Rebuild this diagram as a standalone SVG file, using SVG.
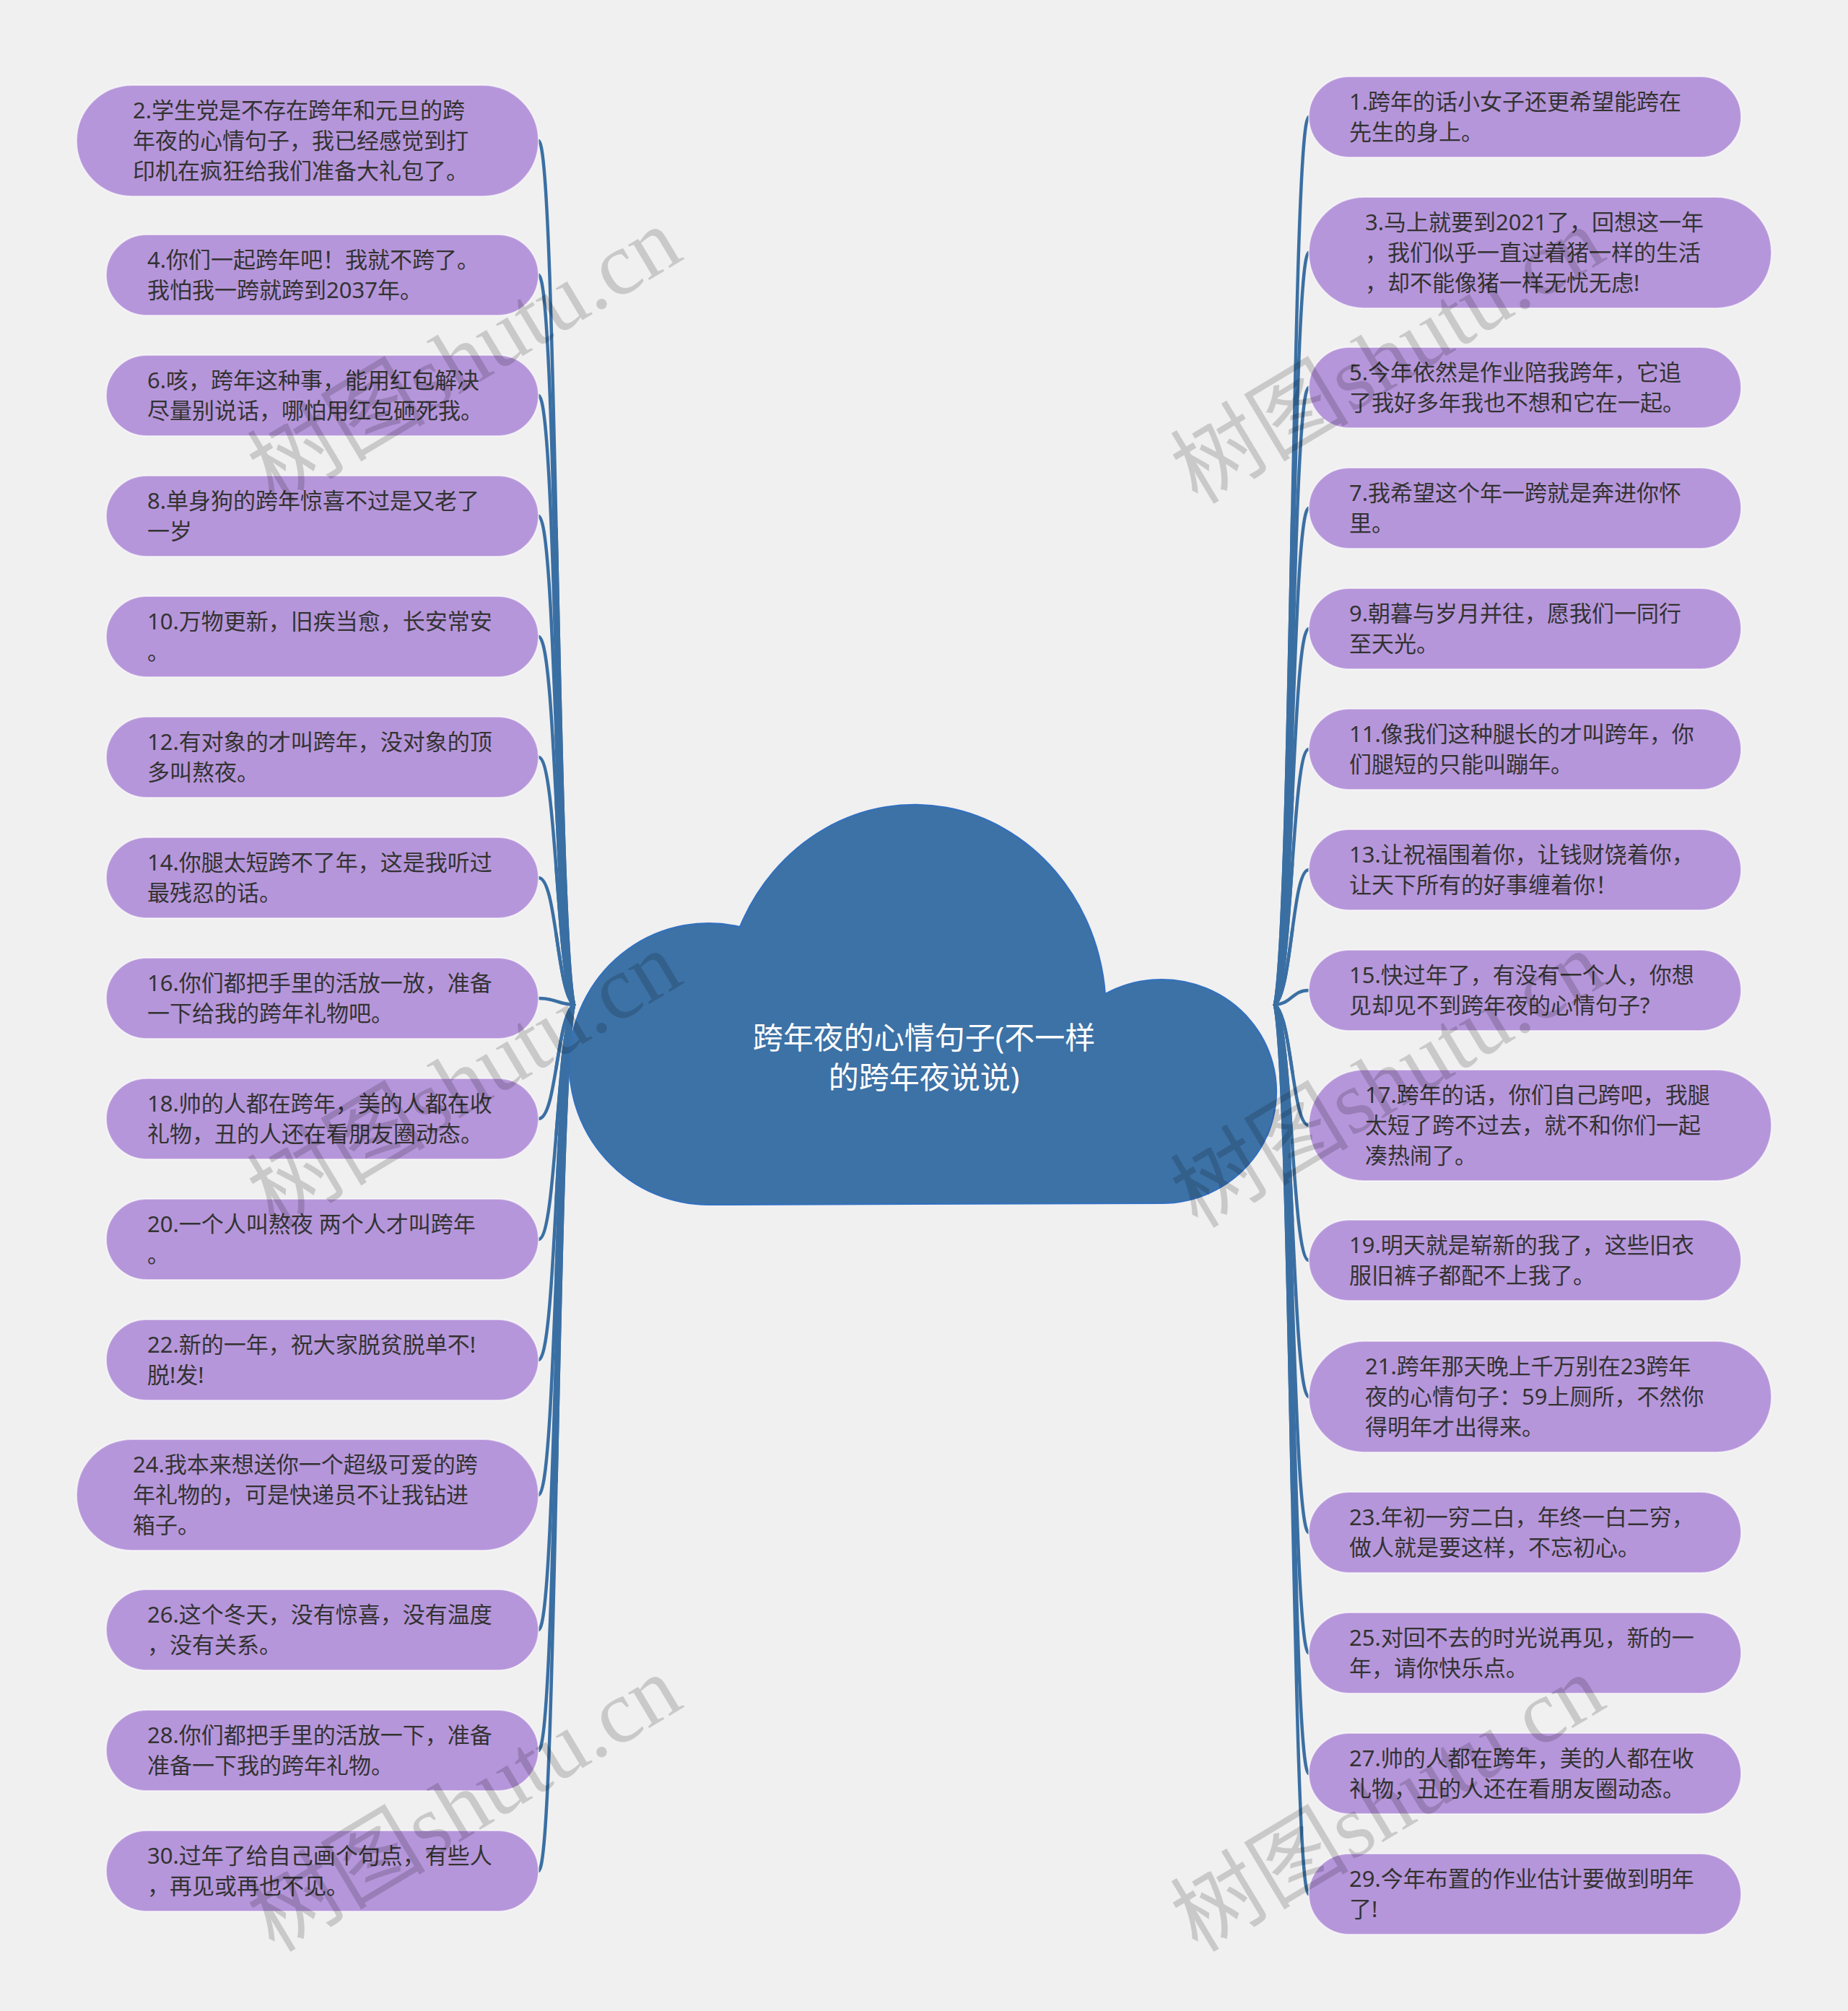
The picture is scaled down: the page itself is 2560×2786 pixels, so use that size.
<svg xmlns="http://www.w3.org/2000/svg" xmlns:xlink="http://www.w3.org/1999/xlink" width="2560" height="2786" viewBox="0 0 2560 2786">
<style>
.bg{fill:#f0f0f0}
.node{fill:#b696da;stroke:#ffffff;stroke-opacity:0.55;stroke-width:2}
.t{font-family:"Noto Sans","Noto Sans CJK SC",sans-serif;font-size:31px;fill:#333333}
.ct{font-family:"Noto Sans","Noto Sans CJK SC",sans-serif;font-size:42px;fill:#ffffff;text-anchor:middle}
.ln{fill:none;stroke:#3a6fa3;stroke-width:4.5;stroke-linecap:round}
.lnb{fill:none;stroke:#3a6fa3;stroke-width:7;stroke-linecap:butt;stroke-dasharray:0 45 55}
.wm{font-family:"Liberation Serif","Noto Sans CJK SC",serif;font-size:124px;fill:#000000;fill-opacity:0.16}
</style>
<rect class="bg" x="0" y="0" width="2560" height="2786"/>

<g id="connectors">
<path id="c2" class="ln" pathLength="100" d="M746,195 C771,195 771,1272 795,1392"/>
<path id="c4" class="ln" pathLength="100" d="M746,381 C771,381 771,1291 795,1392"/>
<path id="c6" class="ln" pathLength="100" d="M746,548 C771,548 771,1308 795,1392"/>
<path id="c8" class="ln" pathLength="100" d="M746,715 C771,715 771,1324 795,1392"/>
<path id="c10" class="ln" pathLength="100" d="M746,882 C771,882 771,1341 795,1392"/>
<path id="c12" class="ln" pathLength="100" d="M746,1049 C771,1049 771,1358 795,1392"/>
<path id="c14" class="ln" pathLength="100" d="M746,1216 C771,1216 771,1374 795,1392"/>
<path id="c16" class="ln" pathLength="100" d="M746,1383 C771,1383 771,1391 795,1392"/>
<path id="c18" class="ln" pathLength="100" d="M746,1550 C771,1550 771,1408 795,1392"/>
<path id="c20" class="ln" pathLength="100" d="M746,1717 C771,1717 771,1425 795,1392"/>
<path id="c22" class="ln" pathLength="100" d="M746,1884 C771,1884 771,1441 795,1392"/>
<path id="c24" class="ln" pathLength="100" d="M746,2071 C771,2071 771,1460 795,1392"/>
<path id="c26" class="ln" pathLength="100" d="M746,2258 C771,2258 771,1479 795,1392"/>
<path id="c28" class="ln" pathLength="100" d="M746,2425 C771,2425 771,1495 795,1392"/>
<path id="c30" class="ln" pathLength="100" d="M746,2592 C771,2592 771,1512 795,1392"/>
<path id="c1" class="ln" pathLength="100" d="M1813,162 C1790,162 1790,1269 1766,1392"/>
<path id="c3" class="ln" pathLength="100" d="M1813,350 C1790,350 1790,1288 1766,1392"/>
<path id="c5" class="ln" pathLength="100" d="M1813,537 C1790,537 1790,1306 1766,1392"/>
<path id="c7" class="ln" pathLength="100" d="M1813,704 C1790,704 1790,1323 1766,1392"/>
<path id="c9" class="ln" pathLength="100" d="M1813,871 C1790,871 1790,1340 1766,1392"/>
<path id="c11" class="ln" pathLength="100" d="M1813,1038 C1790,1038 1790,1357 1766,1392"/>
<path id="c13" class="ln" pathLength="100" d="M1813,1205 C1790,1205 1790,1373 1766,1392"/>
<path id="c15" class="ln" pathLength="100" d="M1813,1372 C1790,1372 1790,1390 1766,1392"/>
<path id="c17" class="ln" pathLength="100" d="M1813,1559 C1790,1559 1790,1409 1766,1392"/>
<path id="c19" class="ln" pathLength="100" d="M1813,1746 C1790,1746 1790,1427 1766,1392"/>
<path id="c21" class="ln" pathLength="100" d="M1813,1935 C1790,1935 1790,1446 1766,1392"/>
<path id="c23" class="ln" pathLength="100" d="M1813,2123 C1790,2123 1790,1465 1766,1392"/>
<path id="c25" class="ln" pathLength="100" d="M1813,2290 C1790,2290 1790,1482 1766,1392"/>
<path id="c27" class="ln" pathLength="100" d="M1813,2457 C1790,2457 1790,1499 1766,1392"/>
<path id="c29" class="ln" pathLength="100" d="M1813,2624 C1790,2624 1790,1515 1766,1392"/>
<g class="lnb">
<use xlink:href="#c2" href="#c2" class="lnb"/><use xlink:href="#c4" href="#c4" class="lnb"/><use xlink:href="#c6" href="#c6" class="lnb"/><use xlink:href="#c8" href="#c8" class="lnb"/><use xlink:href="#c10" href="#c10" class="lnb"/><use xlink:href="#c12" href="#c12" class="lnb"/><use xlink:href="#c14" href="#c14" class="lnb"/><use xlink:href="#c18" href="#c18" class="lnb"/><use xlink:href="#c20" href="#c20" class="lnb"/><use xlink:href="#c22" href="#c22" class="lnb"/><use xlink:href="#c24" href="#c24" class="lnb"/><use xlink:href="#c26" href="#c26" class="lnb"/><use xlink:href="#c28" href="#c28" class="lnb"/><use xlink:href="#c30" href="#c30" class="lnb"/>
<use xlink:href="#c1" href="#c1" class="lnb"/><use xlink:href="#c3" href="#c3" class="lnb"/><use xlink:href="#c5" href="#c5" class="lnb"/><use xlink:href="#c7" href="#c7" class="lnb"/><use xlink:href="#c9" href="#c9" class="lnb"/><use xlink:href="#c11" href="#c11" class="lnb"/><use xlink:href="#c13" href="#c13" class="lnb"/><use xlink:href="#c17" href="#c17" class="lnb"/><use xlink:href="#c19" href="#c19" class="lnb"/><use xlink:href="#c21" href="#c21" class="lnb"/><use xlink:href="#c23" href="#c23" class="lnb"/><use xlink:href="#c25" href="#c25" class="lnb"/><use xlink:href="#c27" href="#c27" class="lnb"/><use xlink:href="#c29" href="#c29" class="lnb"/>
</g>
</g>

<g id="center">
<path d="M985,1669 A193 195 0 1 1 1025,1284 A265 286 0 0 1 1531,1377 A159 155 0 1 1 1609,1667 Z" fill="#3d72a6" stroke="#3270c0" stroke-width="2"/>
<text class="ct"><tspan x="1280" y="1453">跨年夜的心情句子(不一样</tspan><tspan x="1280" y="1508">的跨年夜说说)</tspan></text>
</g>

<g id="n2"><rect class="node" x="106" y="118" width="640" height="154" rx="77"/><text class="t"><tspan x="184" y="164">2.学生党是不存在跨年和元旦的跨</tspan><tspan x="184" y="206">年夜的心情句子，我已经感觉到打</tspan><tspan x="184" y="248">印机在疯狂给我们准备大礼包了。</tspan></text></g>
<g id="n4"><rect class="node" x="147" y="325" width="599" height="112" rx="56"/><text class="t"><tspan x="204" y="371">4.你们一起跨年吧！我就不跨了。</tspan><tspan x="204" y="413">我怕我一跨就跨到2037年。</tspan></text></g>
<g id="n6"><rect class="node" x="147" y="492" width="599" height="112" rx="56"/><text class="t"><tspan x="204" y="538">6.咳，跨年这种事，能用红包解决</tspan><tspan x="204" y="580">尽量别说话，哪怕用红包砸死我。</tspan></text></g>
<g id="n8"><rect class="node" x="147" y="659" width="599" height="112" rx="56"/><text class="t"><tspan x="204" y="705">8.单身狗的跨年惊喜不过是又老了</tspan><tspan x="204" y="747">一岁</tspan></text></g>
<g id="n10"><rect class="node" x="147" y="826" width="599" height="112" rx="56"/><text class="t"><tspan x="204" y="872">10.万物更新，旧疾当愈，长安常安</tspan><tspan x="204" y="914">。</tspan></text></g>
<g id="n12"><rect class="node" x="147" y="993" width="599" height="112" rx="56"/><text class="t"><tspan x="204" y="1039">12.有对象的才叫跨年，没对象的顶</tspan><tspan x="204" y="1081">多叫熬夜。</tspan></text></g>
<g id="n14"><rect class="node" x="147" y="1160" width="599" height="112" rx="56"/><text class="t"><tspan x="204" y="1206">14.你腿太短跨不了年，这是我听过</tspan><tspan x="204" y="1248">最残忍的话。</tspan></text></g>
<g id="n16"><rect class="node" x="147" y="1327" width="599" height="112" rx="56"/><text class="t"><tspan x="204" y="1373">16.你们都把手里的活放一放，准备</tspan><tspan x="204" y="1415">一下给我的跨年礼物吧。</tspan></text></g>
<g id="n18"><rect class="node" x="147" y="1494" width="599" height="112" rx="56"/><text class="t"><tspan x="204" y="1540">18.帅的人都在跨年，美的人都在收</tspan><tspan x="204" y="1582">礼物，丑的人还在看朋友圈动态。</tspan></text></g>
<g id="n20"><rect class="node" x="147" y="1661" width="599" height="112" rx="56"/><text class="t"><tspan x="204" y="1707">20.一个人叫熬夜 两个人才叫跨年</tspan><tspan x="204" y="1749">。</tspan></text></g>
<g id="n22"><rect class="node" x="147" y="1828" width="599" height="112" rx="56"/><text class="t"><tspan x="204" y="1874">22.新的一年，祝大家脱贫脱单不!</tspan><tspan x="204" y="1916">脱!发!</tspan></text></g>
<g id="n24"><rect class="node" x="106" y="1994" width="640" height="154" rx="77"/><text class="t"><tspan x="184" y="2040">24.我本来想送你一个超级可爱的跨</tspan><tspan x="184" y="2082">年礼物的，可是快递员不让我钻进</tspan><tspan x="184" y="2124">箱子。</tspan></text></g>
<g id="n26"><rect class="node" x="147" y="2202" width="599" height="112" rx="56"/><text class="t"><tspan x="204" y="2248">26.这个冬天，没有惊喜，没有温度</tspan><tspan x="204" y="2290">，没有关系。</tspan></text></g>
<g id="n28"><rect class="node" x="147" y="2369" width="599" height="112" rx="56"/><text class="t"><tspan x="204" y="2415">28.你们都把手里的活放一下，准备</tspan><tspan x="204" y="2457">准备一下我的跨年礼物。</tspan></text></g>
<g id="n30"><rect class="node" x="147" y="2536" width="599" height="112" rx="56"/><text class="t"><tspan x="204" y="2582">30.过年了给自己画个句点，有些人</tspan><tspan x="204" y="2624">，再见或再也不见。</tspan></text></g>

<g id="n1"><rect class="node" x="1813" y="106" width="599" height="112" rx="56"/><text class="t"><tspan x="1869" y="152">1.跨年的话小女子还更希望能跨在</tspan><tspan x="1869" y="194">先生的身上。</tspan></text></g>
<g id="n3"><rect class="node" x="1813" y="273" width="641" height="154" rx="77"/><text class="t"><tspan x="1891" y="319">3.马上就要到2021了，回想这一年</tspan><tspan x="1891" y="361">，我们似乎一直过着猪一样的生活</tspan><tspan x="1891" y="403">，却不能像猪一样无忧无虑!</tspan></text></g>
<g id="n5"><rect class="node" x="1813" y="481" width="599" height="112" rx="56"/><text class="t"><tspan x="1869" y="527">5.今年依然是作业陪我跨年，它追</tspan><tspan x="1869" y="569">了我好多年我也不想和它在一起。</tspan></text></g>
<g id="n7"><rect class="node" x="1813" y="648" width="599" height="112" rx="56"/><text class="t"><tspan x="1869" y="694">7.我希望这个年一跨就是奔进你怀</tspan><tspan x="1869" y="736">里。</tspan></text></g>
<g id="n9"><rect class="node" x="1813" y="815" width="599" height="112" rx="56"/><text class="t"><tspan x="1869" y="861">9.朝暮与岁月并往，愿我们一同行</tspan><tspan x="1869" y="903">至天光。</tspan></text></g>
<g id="n11"><rect class="node" x="1813" y="982" width="599" height="112" rx="56"/><text class="t"><tspan x="1869" y="1028">11.像我们这种腿长的才叫跨年，你</tspan><tspan x="1869" y="1070">们腿短的只能叫蹦年。</tspan></text></g>
<g id="n13"><rect class="node" x="1813" y="1149" width="599" height="112" rx="56"/><text class="t"><tspan x="1869" y="1195">13.让祝福围着你，让钱财饶着你，</tspan><tspan x="1869" y="1237">让天下所有的好事缠着你！</tspan></text></g>
<g id="n15"><rect class="node" x="1813" y="1316" width="599" height="112" rx="56"/><text class="t"><tspan x="1869" y="1362">15.快过年了，有没有一个人，你想</tspan><tspan x="1869" y="1404">见却见不到跨年夜的心情句子?</tspan></text></g>
<g id="n17"><rect class="node" x="1813" y="1482" width="641" height="154" rx="77"/><text class="t"><tspan x="1891" y="1528">17.跨年的话，你们自己跨吧，我腿</tspan><tspan x="1891" y="1570">太短了跨不过去，就不和你们一起</tspan><tspan x="1891" y="1612">凑热闹了。</tspan></text></g>
<g id="n19"><rect class="node" x="1813" y="1690" width="599" height="112" rx="56"/><text class="t"><tspan x="1869" y="1736">19.明天就是崭新的我了，这些旧衣</tspan><tspan x="1869" y="1778">服旧裤子都配不上我了。</tspan></text></g>
<g id="n21"><rect class="node" x="1813" y="1858" width="641" height="154" rx="77"/><text class="t"><tspan x="1891" y="1904">21.跨年那天晚上千万别在23跨年</tspan><tspan x="1891" y="1946">夜的心情句子：59上厕所，不然你</tspan><tspan x="1891" y="1988">得明年才出得来。</tspan></text></g>
<g id="n23"><rect class="node" x="1813" y="2067" width="599" height="112" rx="56"/><text class="t"><tspan x="1869" y="2113">23.年初一穷二白，年终一白二穷，</tspan><tspan x="1869" y="2155">做人就是要这样，不忘初心。</tspan></text></g>
<g id="n25"><rect class="node" x="1813" y="2234" width="599" height="112" rx="56"/><text class="t"><tspan x="1869" y="2280">25.对回不去的时光说再见，新的一</tspan><tspan x="1869" y="2322">年，请你快乐点。</tspan></text></g>
<g id="n27"><rect class="node" x="1813" y="2401" width="599" height="112" rx="56"/><text class="t"><tspan x="1869" y="2447">27.帅的人都在跨年，美的人都在收</tspan><tspan x="1869" y="2489">礼物，丑的人还在看朋友圈动态。</tspan></text></g>
<g id="n29"><rect class="node" x="1813" y="2568" width="599" height="112" rx="56"/><text class="t"><tspan x="1869" y="2614">29.今年布置的作业估计要做到明年</tspan><tspan x="1869" y="2656">了!</tspan></text></g>

<g id="watermarks">
<text class="wm" transform="translate(380,700) rotate(-31)">树图shutu.cn</text>
<text class="wm" transform="translate(380,1703) rotate(-31)">树图shutu.cn</text>
<text class="wm" transform="translate(380,2706) rotate(-31)">树图shutu.cn</text>
<text class="wm" transform="translate(1659,700) rotate(-31)">树图shutu.cn</text>
<text class="wm" transform="translate(1659,1703) rotate(-31)">树图shutu.cn</text>
<text class="wm" transform="translate(1659,2706) rotate(-31)">树图shutu.cn</text>
</g>
</svg>
